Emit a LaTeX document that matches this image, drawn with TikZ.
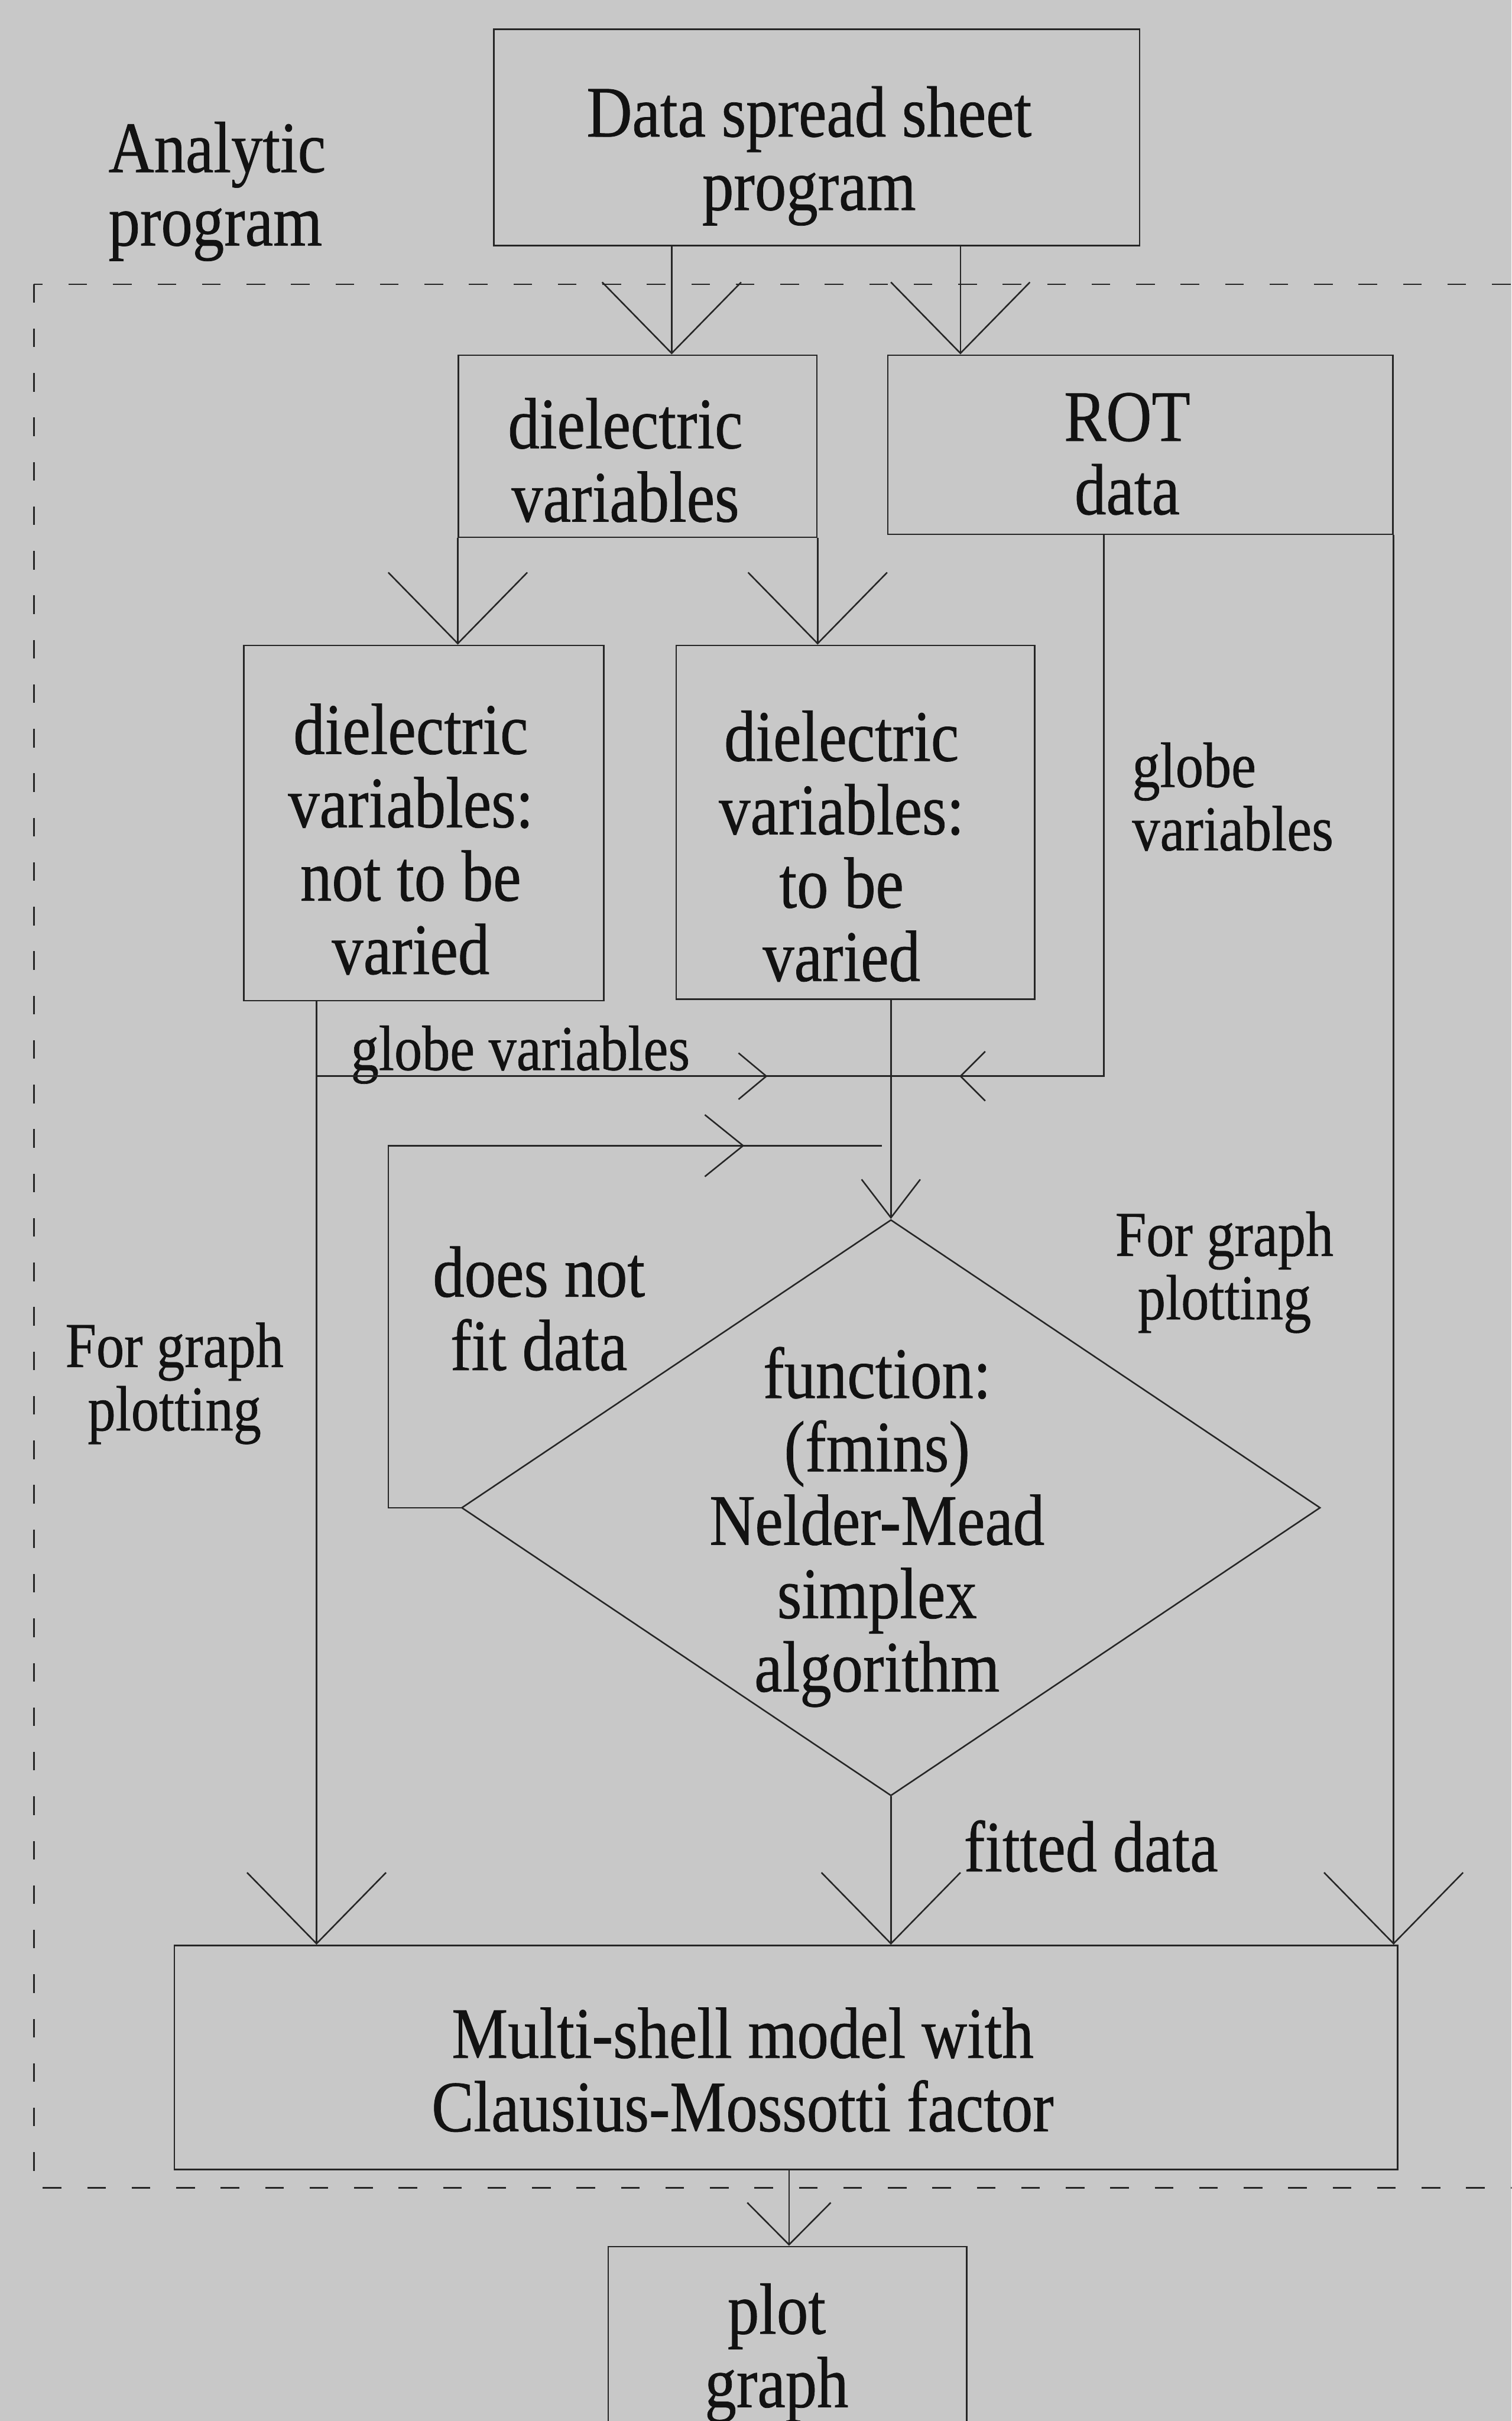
\documentclass[tikz,border=0pt]{standalone}
\usepackage{fontspec}
\setmainfont{Liberation Serif}[FakeStretch=0.87, FakeBold=0.6]
\usetikzlibrary{arrows.meta,shapes.geometric,decorations.markings}
\definecolor{paper}{RGB}{200,200,200}
\definecolor{ink}{RGB}{18,18,18}
\definecolor{rule}{RGB}{38,38,38}
\tikzset{
  box/.style={draw=rule, line width=0.7pt, inner sep=0pt},
  lbl/.style={text=ink, align=center, inner sep=0pt, font=\fontsize{33.4}{33.8}\selectfont},
  lblsmall/.style={text=ink, align=center, inner sep=0pt, font=\fontsize{29.5}{29.2}\selectfont},
  wire/.style={draw=rule, line width=0.7pt},
  bigV/.style={wire, -{Straight Barb[length=1.15cm,width=2.25cm]}},
  smallV/.style={wire, -{Straight Barb[length=0.62cm,width=0.95cm]}},
  medV/.style={wire, -{Straight Barb[length=0.68cm,width=1.35cm]}},
  midtip/.style 2 args={postaction={decorate}, decoration={markings,
      mark=at position #1 with {\arrow[rule, line width=0.7pt]{#2}}}},
  framedash/.style={draw=rule, line width=0.6pt, dash pattern=on 0.3cm off 0.42cm},
}
\begin{document}
\begin{tikzpicture}[x=0.025cm, y=-0.025cm]
  % page area and background
  \path[clip] (0,0) rectangle (979,1568);
  \fill[paper] (0,0) rectangle (979,1568);

  % dashed frame of the analytic program
  \draw[framedash] (22,184) rectangle (1010,1417);

  % boxes
  \node[box, minimum width=10.45cm, minimum height=3.5cm]   (ds)  at (529,89)     {};
  \node[box, minimum width=5.8cm,   minimum height=2.95cm]  (dv)  at (413,289)    {};
  \node[box, minimum width=8.175cm, minimum height=2.9cm]   (rot) at (738.5,288)  {};
  \node[box, minimum width=5.825cm, minimum height=5.75cm]  (nv)  at (274.5,533)  {};
  \node[box, minimum width=5.8cm,   minimum height=5.725cm] (tv)  at (554,532.5)  {};
  \node[box, diamond, minimum width=13.9cm, minimum height=9.325cm] (dia) at (577,976.5) {};
  \node[box, minimum width=19.8cm,  minimum height=3.625cm] (ms)  at (509,1332.5) {};
  \node[box, minimum width=5.8cm,   minimum height=4.625cm] (pg)  at (510,1547.5) {};

  % texts
  \node[lbl, anchor=west, align=left] (tAna) at (70,124) {Analytic\\program};
  \node[lbl] (tDs)  at (524,101)  {Data spread sheet\\program};
  \node[lbl] (tDv)  at (405,298)  {dielectric\\variables};
  \node[lbl] (tRot) at (730,294)  {ROT\\data};
  \node[lbl] (tNv)  at (266,543.5) {dielectric\\variables:\\not to be\\varied};
  \node[lbl] (tTv)  at (545,548)  {dielectric\\variables:\\to be\\varied};
  \node[lblsmall, anchor=west, align=left] (tGlR) at (733,516) {globe\\variables};
  \node[lblsmall, anchor=base west] (tGlL) at (227,693) {globe variables};
  \node[lbl] (tFit) at (349,847.5) {does not\\fit data};
  \node[lblsmall] (tPlL) at (113,896) {For graph\\plotting};
  \node[lblsmall] (tPlR) at (793,824) {For graph\\plotting};
  \node[lbl] (tFun) at (568,989) {function:\\(fmins)\\Nelder-Mead\\simplex\\algorithm};
  \node[lbl, anchor=base west] (tFd) at (624,1212) {fitted data};
  \node[lbl] (tMs)  at (481,1340.5) {Multi-shell model with\\Clausius-Mossotti factor};
  \node[lbl] (tPg)  at (503,1524) {plot\\graph};

  % junction points of the variable lines
  \coordinate (gL) at (205,697);
  \coordinate (jn) at (577,697);
  \coordinate (gR) at (715,697);
  \coordinate (fbEnd) at (571,742);

  % connectors
  \draw[bigV] (435,0 |- ds.south) -- (435,0 |- dv.north);
  \draw[bigV] (622,0 |- ds.south) -- (622,0 |- rot.north);
  \draw[bigV] (dv.south west) -- (dv.south west |- nv.north);
  \draw[bigV] (dv.south east) -- (dv.south east |- tv.north);
  \draw[bigV] (205,0 |- nv.south) -- (205,0 |- ms.north);
  \draw[wire, midtip={7.3cm}{Straight Barb[length=0.45cm,width=0.75cm]}] (gL) -- (jn);
  \draw[wire, midtip={11.1cm}{Straight Barb[length=0.4cm,width=0.8cm]}]
    (715,0 |- rot.south) -- (gR) -- (jn);
  \draw[smallV] (577,0 |- tv.south) -- (dia.north);
  \draw[wire, midtip={12.8cm}{Straight Barb[length=0.62cm,width=1.0cm]}]
    (dia.west) -- ++(-47,0) |- (fbEnd);
  \draw[bigV] (dia.south) -- (dia.south |- ms.north);
  \draw[bigV] (rot.south east) -- (rot.south east |- ms.north);
  \draw[medV] (511,0 |- ms.south) -- (511,0 |- pg.north);
\end{tikzpicture}
\end{document}
